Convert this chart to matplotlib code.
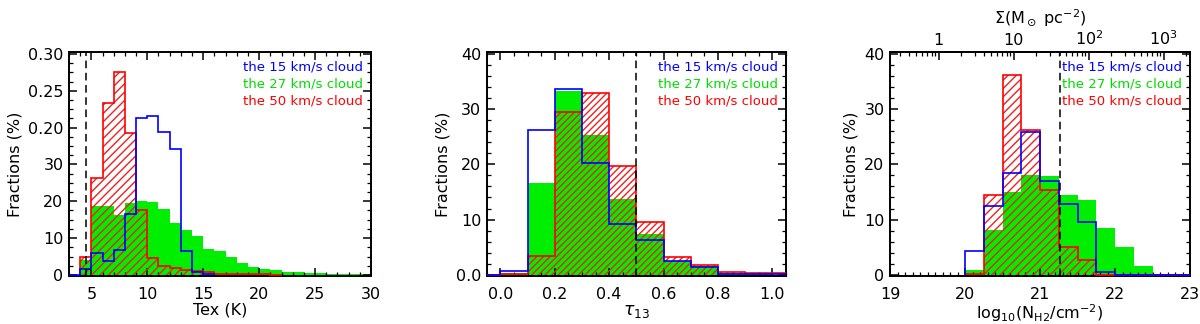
import matplotlib
matplotlib.use("Agg")
import matplotlib.pyplot as plt
import numpy as np
from matplotlib.ticker import AutoMinorLocator, FixedLocator

# ==========================================
# data (fractions in %)
# ==========================================
# panel 1: excitation temperature, 1 K bins
tex_edges_blue = np.arange(3, 17, 1)
tex_blue = [0, 1.5, 6.0, 3.9, 6.8, 16.5, 42.6, 43.1, 38.7, 34.1, 6.5, 0.9, 0.2]
tex_edges_green = np.arange(4, 31, 1)
tex_green = [4.0, 18.7, 18.7, 16.4, 19.4, 20.0, 19.8, 17.8, 14.2, 12.3, 10.5, 7.0, 6.5,
             4.9, 3.3, 2.1, 1.6, 1.35, 0.7, 0.7, 0.45, 0.4, 0.3, 0.3, 0.2, 0.2]
tex_edges_red = np.arange(4, 23, 1)
tex_red = [4.8, 26.4, 46.8, 55.2, 38.5, 17.7, 4.5, 2.3, 2.0, 1.3, 1.0, 0.9, 0.3, 0.3,
           0.2, 0.2, 0.2, 0.1]
tex_cut = 4.5
tex_yticklabels = ["0", "10", "20", "30", "0.20", "0.25", "0.30"]

# panel 2: optical depth, 0.1 bins
tau_edges = np.round(np.arange(-0.1, 1.11, 0.1), 2)
tau_blue = [0, 0.66, 26.2, 33.6, 20.3, 9.2, 6.3, 2.6, 1.4, 0.1, 0.2, 0.1]
tau_green = [0, 0.3, 16.6, 33.3, 25.3, 13.8, 7.4, 2.6, 1.55, 0.3, 0.1, 0.05]
tau_red = [0, 0.15, 3.5, 29.4, 32.9, 19.6, 9.5, 3.2, 1.85, 0.5, 0.3, 0.3]
tau_cut = 0.5

# panel 3: column density, 0.25 dex bins
nh2_edges = np.arange(20.0, 23.01, 0.25)
nh2_blue = [4.4, 12.5, 18.4, 25.9, 16.9, 12.9, 9.6, 0.5, 0.05, 0, 0, 0]
nh2_green = [0.9, 8.1, 15.0, 18.1, 17.8, 14.5, 13.5, 8.5, 5.1, 1.55, 0.25, 0.1]
nh2_red = [0.1, 14.4, 36.2, 26.2, 15.4, 5.1, 2.75, 0, 0, 0, 0, 0]
nh2_cut = 21.27
sigma_offset = 19.65   # log10 N(H2) for 1 Msun/pc^2

clouds = ["the 15 km/s cloud", "the 27 km/s cloud", "the 50 km/s cloud"]
cloud_colors = ["#0000ff", "#00dd00", "#ff0000"]

plt.rcParams["font.family"] = "DejaVu Sans"
plt.rcParams["hatch.linewidth"] = 1.0

fig = plt.figure(figsize=(12, 3.24), dpi=100)
ax1 = fig.add_axes([0.0575, 0.148, 0.2517, 0.690])
ax2 = fig.add_axes([0.4056, 0.148, 0.2494, 0.690])
ax3 = fig.add_axes([0.7417, 0.148, 0.2500, 0.690])


def draw_hist(ax, eb, vb, eg, vg, er, vr, hatch):
    ax.stairs(vg, eg, fill=True, color="#00ee00", linewidth=0, zorder=1)
    ax.stairs(vr, er, fill=True, facecolor="none", edgecolor="#ee2020",
              linewidth=0, hatch=hatch, zorder=2)
    ax.stairs(vr, er, color="#ff0000", linewidth=1.2, zorder=3)
    ax.stairs(vb, eb, color="#0000ff", linewidth=1.2, zorder=4)


def style(ax):
    for sp in ax.spines.values():
        sp.set_linewidth(1.4)
    ax.tick_params(which="both", direction="in", top=True, right=True, labelsize=11.5)
    ax.tick_params(which="major", length=6, width=1.1)
    ax.tick_params(which="minor", length=3, width=0.9)
    ax.tick_params(axis="x", pad=8)
    ax.tick_params(axis="y", pad=4)
    ax.set_ylabel("Fractions (%)", fontsize=11.5)
    for i, (txt, c) in enumerate(zip(clouds, cloud_colors)):
        ax.text(0.972, 0.936 - i * 0.077, txt, color=c, fontsize=9.5,
                ha="right", va="center", transform=ax.transAxes, zorder=6)


# ---- panel 1
draw_hist(ax1, tex_edges_blue, tex_blue, tex_edges_green, tex_green,
          tex_edges_red, tex_red, "////")
ax1.axvline(tex_cut, color="black", ls=(0, (5, 3)), lw=1.1, zorder=5)
ax1.set_xlim(3, 30)
ax1.set_ylim(-0.3, 60.4)
ax1.set_yticks(np.arange(0, 61, 10))
ax1.set_yticklabels(tex_yticklabels)
ax1.set_xticks([5, 10, 15, 20, 25, 30])
ax1.xaxis.set_minor_locator(AutoMinorLocator(5))
ax1.yaxis.set_minor_locator(AutoMinorLocator(4))
ax1.set_xlabel("Tex (K)", fontsize=11.5, labelpad=0)
style(ax1)

# ---- panel 2
draw_hist(ax2, tau_edges, tau_blue, tau_edges, tau_green, tau_edges, tau_red, "/////")
ax2.axvline(tau_cut, color="black", ls=(0, (5, 3)), lw=1.1, zorder=5)
ax2.set_xlim(-0.05, 1.05)
ax2.set_ylim(-0.2, 40.2)
ax2.set_yticks([0, 10, 20, 30, 40])
ax2.set_yticklabels(["0.0", "10", "20", "30", "40"])
ax2.set_xticks([0.0, 0.2, 0.4, 0.6, 0.8, 1.0])
ax2.set_xticklabels(["0.0", "0.2", "0.4", "0.6", "0.8", "1.0"])
ax2.xaxis.set_minor_locator(AutoMinorLocator(4))
ax2.yaxis.set_minor_locator(AutoMinorLocator(5))
ax2.set_xlabel(r"$\tau_{13}$", fontsize=12.5, labelpad=0)
style(ax2)

# ---- panel 3
draw_hist(ax3, nh2_edges, nh2_blue, nh2_edges, nh2_green, nh2_edges, nh2_red, "////")
ax3.axvline(nh2_cut, color="black", ls=(0, (5, 3)), lw=1.1, zorder=5)
ax3.set_xlim(19, 23)
ax3.set_ylim(-0.2, 40.2)
ax3.set_yticks([0, 10, 20, 30, 40])
ax3.set_xticks([19, 20, 21, 22, 23])
ax3.xaxis.set_minor_locator(AutoMinorLocator(10))
ax3.yaxis.set_minor_locator(AutoMinorLocator(5))
ax3.set_xlabel(r"log$_{10}$(N$_{\rm H2}$/cm$^{-2}$)", fontsize=11.5, labelpad=0)
style(ax3)
ax3.tick_params(which="both", top=False)

sec = ax3.secondary_xaxis("top", functions=(lambda x: 10 ** (x - sigma_offset),
                                            lambda s: np.log10(np.clip(s, 1e-30, None)) + sigma_offset))
sec.xaxis.set_major_locator(FixedLocator([1, 10, 100, 1000]))
sec.set_xticklabels(["1", "10", r"10$^2$", r"10$^3$"])
minor_vals = [m * 10.0 ** k for k in range(-1, 4) for m in range(2, 10)]
sec.xaxis.set_minor_locator(FixedLocator(minor_vals))
sec.tick_params(which="both", direction="in", labelsize=11.5, pad=3)
sec.tick_params(which="major", length=6, width=1.1)
sec.tick_params(which="minor", length=3, width=0.9)
sec.spines["top"].set_linewidth(1.4)
sec.set_xlabel(r"$\Sigma$(M$_\odot$ pc$^{-2}$)", fontsize=11.5, labelpad=4)

fig.savefig("out.png", dpi=100)
